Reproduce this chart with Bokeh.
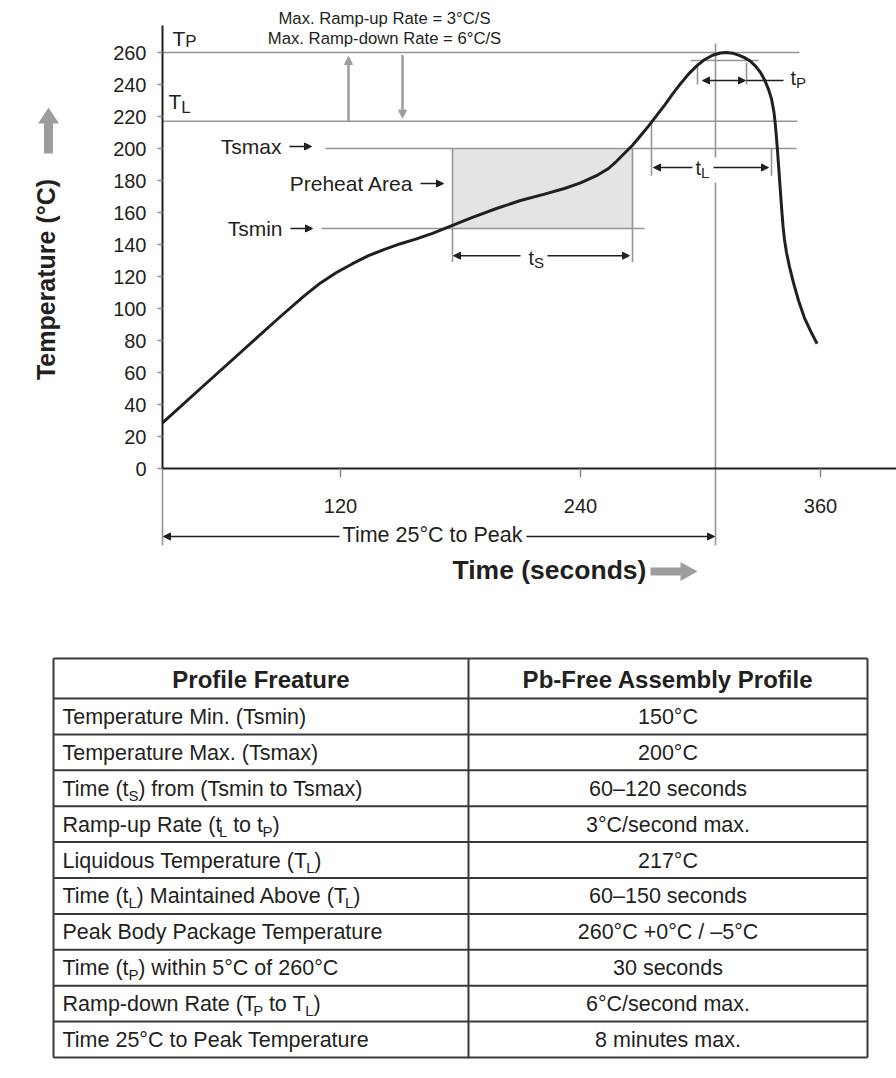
import math
import re
from bokeh.plotting import figure
from bokeh.models import Range1d, LinearAxis, FixedTicker, Arrow, NormalHead
from bokeh.layouts import column
from bokeh.core.properties import value
from bokeh.embed import file_html
from bokeh.resources import INLINE

FONT = "Liberation Sans"
INK = "#231f20"
GUIDE = "#959595"
ARROW_GREY = "#9d9d9d"

# ---------------- data ----------------
time_s = [31, 50, 70, 90, 102, 110, 118, 126, 134, 142, 150, 158, 166, 176, 186,
          198, 210, 222, 232, 240, 248, 254, 258, 262, 266, 270, 274, 278, 282,
          286, 290, 294, 298, 302, 306, 310, 313, 316, 319, 322, 325, 327.5, 330,
          332, 334, 335.5, 336.7, 337.5, 338.3, 339, 339.8, 340.6, 341.3, 342,
          343, 344.5, 346.5, 349, 352, 355, 358.3]
temp_c = [28.5, 50, 72.5, 95, 108, 116, 122.5, 128, 133, 137, 140.5, 143.5, 147,
          152, 157, 162.5, 167.5, 171.5, 175, 178.5, 183, 187.5, 192, 197, 202,
          208, 214, 220.5, 227, 234, 240.5, 246.5, 251.5, 255.5, 258.3, 259.7,
          260, 259.6, 258.4, 256.8, 254.5, 251.5, 247.5, 243, 237, 231, 223, 214,
          202, 190, 176, 162, 151, 143, 135, 126, 116, 105, 94, 86, 78]

x_ticks = [120, 240, 360]
y_ticks = list(range(0, 261, 20))

T_START = 31          # s, start of curve (25 C)
T_PEAK_TIME = 307.5   # s, "time 25C to peak" marker
TS_MIN, TS_MAX, T_LIQ, T_PEAK, T_WIN = 150, 200, 217, 260, 255
ts_span = (176, 266)
tl_span = (275.5, 335.5)
tp_span = (298.5, 323)
ramp_up_t, ramp_down_t = 124, 151

ramp_texts = ["Max. Ramp-up Rate = 3°C/S", "Max. Ramp-down Rate = 6°C/S"]

headers = ["Profile Freature", "Pb-Free Assembly Profile"]
features = [
    "Temperature Min. (Tsmin)",
    "Temperature Max. (Tsmax)",
    "Time (t_{S}) from (Tsmin to Tsmax)",
    "Ramp-up Rate (t_{L} to t_{P})",
    "Liquidous Temperature (T_{L})",
    "Time (t_{L}) Maintained Above (T_{L})",
    "Peak Body Package Temperature",
    "Time (t_{P}) within 5°C of 260°C",
    "Ramp-down Rate (T_{P} to T_{L})",
    "Time 25°C to Peak Temperature",
]
values = [
    "150°C", "200°C", "60–120 seconds", "3°C/second max.", "217°C",
    "60–150 seconds", "260°C +0°C / –5°C", "30 seconds", "6°C/second max.",
    "8 minutes max.",
]

# ---------------- helpers ----------------
WID = {' ': 278, '(': 333, ')': 333, '-': 333, '.': 278, '/': 278, '°': 400,
       '+': 584, '=': 584, '–': 556}
for c in "0123456789":
    WID[c] = 556
WID.update(dict(zip("ABCDEFGHIJKLMNOPQRSTUVWXYZ",
                    [667, 667, 722, 722, 667, 611, 778, 722, 278, 500, 667, 556, 833,
                     722, 778, 667, 778, 722, 667, 611, 722, 667, 944, 667, 667, 611])))
WID.update(dict(zip("abcdefghijklmnopqrstuvwxyz",
                    [556, 556, 500, 556, 556, 278, 556, 556, 222, 222, 500, 222, 833,
                     556, 556, 556, 556, 333, 500, 278, 556, 500, 722, 500, 500, 500])))


def tw(s, size):
    return 0.985 * sum(WID.get(c, 556) for c in s) * size / 1000.0


def txt(fig, x, y, s, size, align="left", baseline="middle", bold=False,
        color=INK, angle=0.0):
    fig.text(x=[x], y=[y], text=[s], text_font=value(FONT),
             text_font_size=f"{size}px", text_align=align,
             text_baseline=baseline, text_color=color,
             text_font_style="bold" if bold else "normal", angle=angle)


# ---------------- chart ----------------
W, H = 896, 640
PXX, PXY = 2.0, 1.6          # px per second, px per degree
X0 = T_START - 162 / PXX      # page x = 162 at curve start
X1 = X0 + W / PXX
Y1 = 468 / PXY                # page y = 468 at 0 C
Y0 = Y1 - H / PXY


def dx(px):
    return px / PXX


def dy(px):
    return px / PXY


def ty(py):
    return Y1 - py / PXY


p = figure(width=W, height=H, x_range=Range1d(X0, X1), y_range=Range1d(Y0, Y1),
           output_backend="svg", toolbar_location=None,
           x_axis_location=None, y_axis_location=None, min_border=0,
           outline_line_color=None, background_fill_color="white",
           border_fill_color="white")
p.grid.visible = False

# preheat area
p.quad(left=[ts_span[0]], right=[ts_span[1]], bottom=[TS_MIN], top=[TS_MAX],
       fill_color="#e4e4e6", line_color=None)

# horizontal guide lines
p.segment(x0=[T_START, T_START, 112.5, 110.5, 295],
          x1=[349.5, 348.5, 348, 272, 329],
          y0=[T_PEAK, T_LIQ, TS_MAX, TS_MIN, T_WIN],
          y1=[T_PEAK, T_LIQ, TS_MAX, TS_MIN, T_WIN],
          line_color=GUIDE, line_width=1.6)

# vertical guide lines
vx = [ts_span[0], ts_span[1], tl_span[0], tl_span[1], tp_span[0], tp_span[1],
      T_PEAK_TIME, T_PEAK_TIME, T_START]
vy0 = [TS_MAX, TS_MAX, T_LIQ, TS_MAX, 253.75, 253.75, 265.6, 178.75, 0]
vy1 = [129, 129, 183, 183, 240, 240, 194.4, -48, -48]
p.segment(x0=vx, x1=vx, y0=vy0, y1=vy1, line_color=GUIDE, line_width=1.6)

# profile curve
p.line(time_s, temp_c, line_width=3, line_color=INK, line_join="round")


def arrow(x0, y0, x1, y1, color=INK, width=1.4, head=7, both=False):
    def mk():
        return NormalHead(size=head, fill_color=color, line_color=color,
                          line_width=1)
    p.add_layout(Arrow(end=mk(), start=mk() if both else None,
                       x_start=x0, y_start=y0, x_end=x1, y_end=y1,
                       line_color=color, line_width=width))


# ts arrows
ts_y = 133
arrow(210, ts_y, ts_span[0] + 0.5, ts_y)
arrow(223.5, ts_y, ts_span[1] - 1.5, ts_y)
# tL arrows
tl_y = 188.1
arrow(296, tl_y, tl_span[0] + 1, tl_y)
arrow(306.5, tl_y, tl_span[1] - 1.5, tl_y)
# tP arrow
tp_y = 242.5
arrow(tp_span[0] + 2.5, tp_y, tp_span[1] - 0.5, tp_y, both=True)
p.segment(x0=[tp_span[1]], x1=[341.5], y0=[tp_y], y1=[tp_y], line_color=INK,
          line_width=1.4)
# time 25C to peak
tpk_y = -42.5
arrow(119.5, tpk_y, T_START + 0.5, tpk_y)
arrow(213, tpk_y, T_PEAK_TIME - 0.5, tpk_y)
# label pointer arrows
arrow(94.5, 201.25, 105.5, 201.25)
arrow(160, 178.1, 171.5, 178.1)
arrow(95, TS_MIN, 106, TS_MIN)
# ramp arrows
arrow(ramp_up_t, T_LIQ, ramp_up_t, 257.5, color=ARROW_GREY, width=2.5, head=8)
arrow(ramp_down_t, 258.5, ramp_down_t, 219, color=ARROW_GREY, width=2.5, head=8)

# axes
xa = LinearAxis(fixed_location=0, ticker=FixedTicker(ticks=x_ticks),
                bounds=(T_START, X1))
ya = LinearAxis(fixed_location=T_START, ticker=FixedTicker(ticks=y_ticks),
                bounds=(0, 277))
for ax, tick_len, standoff in ((xa, 9, 21), (ya, 5, 11)):
    ax.axis_line_color = INK
    ax.axis_line_width = 2
    ax.major_tick_in = 0
    ax.major_tick_out = tick_len
    ax.major_tick_line_color = "#8a8a8a"
    ax.major_tick_line_width = 1.5
    ax.minor_tick_out = 0
    ax.minor_tick_in = 0
    ax.major_label_text_font = FONT
    ax.major_label_text_font_size = "20px"
    ax.major_label_text_color = INK
    ax.major_label_standoff = standoff
p.add_layout(xa, "below")
p.add_layout(ya, "left")


def sub_label(x, y_mid, main, sub, size, sub_size, drop_px):
    """main text centred (middle baseline) at y_mid, subscript lower by drop_px"""
    txt(p, x, y_mid, main, size)
    txt(p, x + dx(tw(main, size)), y_mid - dy(drop_px), sub, sub_size)


sub_label(36, ty(37.5), "T", "P", 21, 17, 3.5)
sub_label(34, ty(100.5), "T", "L", 21, 17, 6.5)
sub_label(214, ty(257.8), "t", "S", 20, 15, 4)
sub_label(297.5, ty(167.8), "t", "L", 20, 15, 4.5)
sub_label(345, ty(77.8), "t", "P", 20, 15, 4.5)

txt(p, 142, ty(18), ramp_texts[0], 16.7, align="center")
txt(p, 142, ty(38), ramp_texts[1], 16.7, align="center")

txt(p, 90.5, ty(146), "Tsmax", 21, align="right")
txt(p, 156.5, ty(183), "Preheat Area", 21, align="right")
txt(p, 91, TS_MIN, "Tsmin", 21, align="right")

txt(p, 166, ty(534), "Time 25°C to Peak", 21.5, align="center")
txt(p, 176, ty(569.5), "Time (seconds)", 26.5, bold=True)
txt(p, -27.5, ty(279), "Temperature (°C)", 25, align="center", bold=True,
    angle=math.pi / 2)

# big grey arrows (decoration)
cx = -26
p.patch([cx - dx(4.5), cx - dx(4.5), cx - dx(10.5), cx, cx + dx(10.5),
         cx + dx(4.5), cx + dx(4.5)],
        [ty(153), ty(123), ty(123), ty(107), ty(123), ty(123), ty(153)],
        fill_color=ARROW_GREY, line_color=None)
ax0, axb, axt, ayc = 275, 290, 298.5, ty(571)
p.patch([ax0, axb, axb, axt, axb, axb, ax0],
        [ayc - dy(4), ayc - dy(4), ayc - dy(9.5), ayc, ayc + dy(9.5),
         ayc + dy(4), ayc + dy(4)],
        fill_color=ARROW_GREY, line_color=None)

# ---------------- table ----------------
TW, TH = 896, 438
OFF_X, OFF_Y = 8, 8   # table drawn in coordinates relative to (8, 648)
t = figure(width=TW, height=TH, x_range=Range1d(-OFF_X, TW - OFF_X),
           y_range=Range1d(TH - OFF_Y, -OFF_Y),
           output_backend="svg", toolbar_location=None,
           x_axis_location=None, y_axis_location=None, min_border=0,
           outline_line_color=None, background_fill_color="white",
           border_fill_color="white")
t.grid.visible = False

L, R, MID = 45, 859, 460
TOP, HEAD_B, BOT = 10, 50, 409
row_h = (BOT - HEAD_B) / len(features)
hy = [TOP, HEAD_B] + [HEAD_B + row_h * (i + 1) for i in range(len(features))]
t.segment(x0=[L] * len(hy), x1=[R] * len(hy), y0=hy, y1=hy,
          line_color="#3a3a3a", line_width=2)
t.segment(x0=[L, MID, R], x1=[L, MID, R], y0=[TOP] * 3, y1=[BOT] * 3,
          line_color="#3a3a3a", line_width=2)

txt(t, (L + MID) / 2, (TOP + HEAD_B) / 2 + 0.5, headers[0], 24, align="center",
    bold=True)
txt(t, (MID + R) / 2, (TOP + HEAD_B) / 2 + 0.5, headers[1], 24, align="center",
    bold=True)

FS, SFS = 21.5, 15
for i, (feat, val) in enumerate(zip(features, values)):
    yc = HEAD_B + row_h * (i + 0.5) + 0.5
    x = 54
    for part in re.split(r"(_\{[^}]*\})", feat):
        if not part:
            continue
        if part.startswith("_{"):
            s = part[2:-1]
            txt(t, x, yc + 6.5, s, SFS)
            x += tw(s, SFS)
        else:
            lead = len(part) - len(part.lstrip(" "))
            txt(t, x + tw(" " * lead, FS), yc, part.strip(" "), FS)
            x += tw(part, FS)
    txt(t, (MID + R) / 2, yc, val, FS, align="center")

layout = column(p, t)
open("out.html", "w").write(file_html(layout, INLINE))
